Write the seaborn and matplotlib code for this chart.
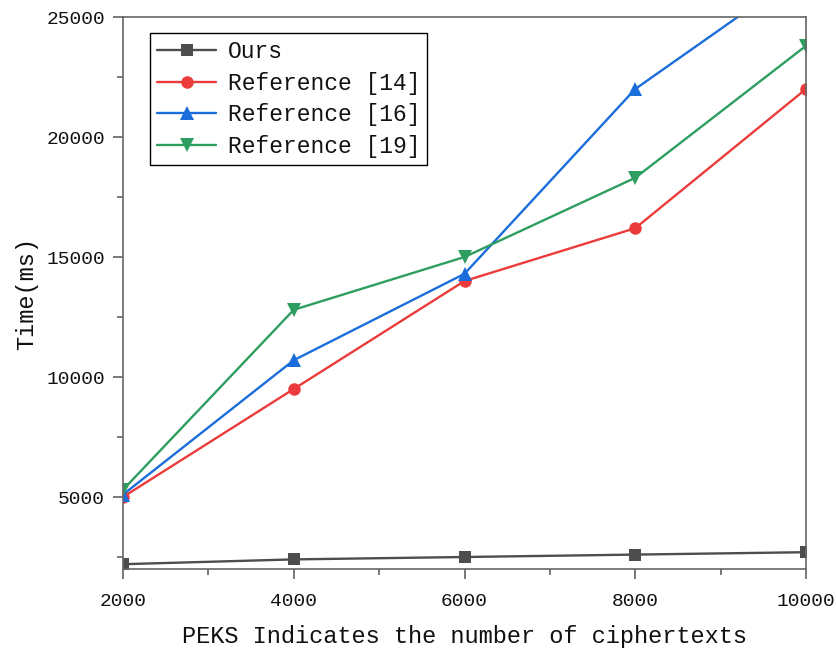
import matplotlib.pyplot as plt
import pandas as pd
import seaborn as sns
from matplotlib.ticker import MultipleLocator

ciphertexts = [2000, 4000, 6000, 8000, 10000]
ours = [2200, 2400, 2500, 2600, 2700]
ref14 = [5000, 9500, 14000, 16200, 22000]
ref16 = [5100, 10700, 14300, 22000, 27000]
ref19 = [5300, 12800, 15000, 18300, 23800]

series_names = ["Ours", "Reference [14]", "Reference [16]", "Reference [19]"]
series_values = [ours, ref14, ref16, ref19]
colors = ["#4d4d4d", "#ec3b3b", "#1a6ddb", "#2e9e60"]
markers = ["s", "o", "^", "v"]
marker_sizes = [8, 9, 10, 10]

sns.set_theme(style="white")
plt.rcParams["font.family"] = ["Liberation Mono", "DejaVu Sans"]

fig, ax = plt.subplots(figsize=(8.36, 6.49), dpi=100)
fig.subplots_adjust(left=123 / 836, right=806 / 836, top=1 - 17 / 649, bottom=1 - 569 / 649)

for name, values, color, marker, ms in zip(series_names, series_values, colors, markers, marker_sizes):
    df = pd.DataFrame({"x": ciphertexts, "y": values})
    sns.lineplot(
        data=df, x="x", y="y", ax=ax, color=color, marker=marker,
        markersize=ms, markeredgewidth=0, linewidth=1.7, label=name,
    )

ax.set_xlim(2000, 10000)
ax.set_ylim(2000, 25000)
ax.set_xticks([2000, 4000, 6000, 8000, 10000])
ax.set_yticks([5000, 10000, 15000, 20000, 25000])
ax.xaxis.set_minor_locator(MultipleLocator(1000))
ax.yaxis.set_minor_locator(MultipleLocator(2500))
ax.tick_params(axis="both", which="major", direction="out", length=7, width=1.1,
               color="#555555", labelsize=14, labelcolor="#111111",
               bottom=True, left=True, top=False, right=False)
ax.tick_params(axis="x", which="major", pad=10)
ax.tick_params(axis="y", which="major", pad=6)
ax.tick_params(axis="both", which="minor", direction="out", length=4, width=1.1,
               color="#555555", bottom=True, left=True, top=False, right=False)
for spine in ax.spines.values():
    spine.set_color("#666666")
    spine.set_linewidth(1.2)

ax.set_xlabel("PEKS Indicates the number of ciphertexts", fontsize=17, labelpad=11, color="#111111")
ax.set_ylabel("Time(ms)", fontsize=17, labelpad=6, color="#111111")

leg = ax.legend(loc="upper left", bbox_to_anchor=(0.0395, 0.971), borderaxespad=0,
                fontsize=16.5, frameon=True, fancybox=False, edgecolor="black", framealpha=1,
                borderpad=0.3, labelspacing=0.38, handlelength=2.6, handletextpad=0.5)
leg.get_frame().set_linewidth(1.0)
for t in leg.get_texts():
    t.set_color("#111111")

fig.savefig("out.png", dpi=100)
